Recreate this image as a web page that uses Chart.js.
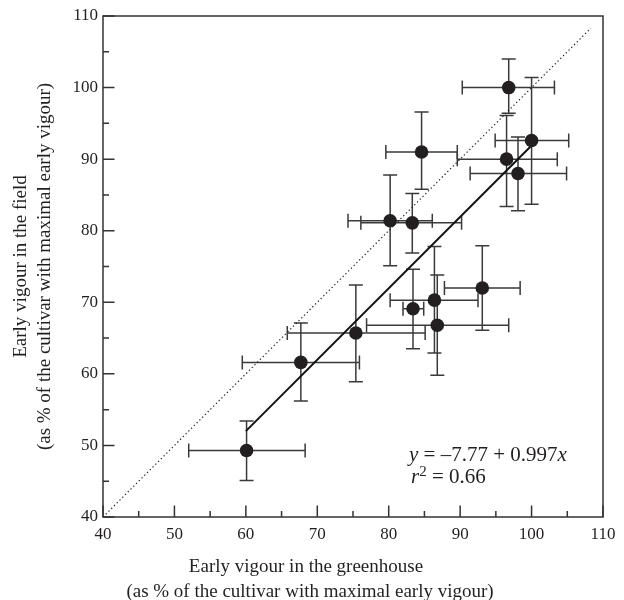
<!DOCTYPE html>
<html>
<head>
<meta charset="utf-8">
<script src="https://cdn.jsdelivr.net/npm/chart.js@4.4.0/dist/chart.umd.min.js"></script>
<style>
html, body { margin: 0; padding: 0; background: #fff; }
#wrap { width: 624px; height: 600px; }
</style>
</head>
<body>
<div id="wrap"><canvas id="chartVigour"></canvas></div>
<script>
// early vigour, % of best cultivar (greenhouse = x, field = y)
const greenhouse     = [60.1, 67.7, 75.4, 80.2, 83.3, 84.6, 83.4, 86.4, 86.8, 93.1, 96.8, 96.5, 100.0, 98.1];
const greenhouseLow  = [52.0, 59.5, 65.8, 74.3, 76.1, 79.6, 82.0, 80.2, 76.9, 87.8, 90.3, 89.6, 94.9, 91.4];
const greenhouseHigh = [68.3, 75.9, 85.1, 86.1, 90.2, 89.6, 84.9, 92.5, 96.8, 98.4, 103.2, 103.6, 105.2, 104.9];
const field          = [49.3, 61.6, 65.7, 81.4, 81.1, 91.0, 69.1, 70.3, 66.8, 72.0, 100.0, 90.0, 92.6, 88.0];
const fieldLow       = [45.1, 56.2, 58.9, 75.1, 76.9, 85.8, 63.5, 62.9, 59.8, 66.1, 96.4, 83.4, 83.7, 82.8];
const fieldHigh      = [53.4, 67.1, 72.4, 87.8, 85.2, 96.6, 74.6, 77.8, 73.8, 77.9, 104.0, 96.1, 101.4, 93.1];

// fitted line end points and 1:1 line
const fitX = [60, 100];
const fitY = [52.0, 91.9];
const identityX = [40, 108.3];
const identityY = [40, 108.3];

const axisTicks = [40, 50, 60, 70, 80, 90, 100, 110];
const minorTicks = [45, 55, 65, 75, 85, 95, 105];

const ink = "#231f20";
const serif = '"Liberation Serif", "Times New Roman", serif';

const extras = {
    id: "extras",
    beforeDatasetsDraw(chart) {
        const { ctx, scales: { x, y } } = chart;
        const cap = 7;
        ctx.save();
        ctx.strokeStyle = "#3a3a3a";
        ctx.lineWidth = 1.5;
        greenhouse.forEach((gx, i) => {
            const px = x.getPixelForValue(gx);
            const py = y.getPixelForValue(field[i]);
            const x0 = x.getPixelForValue(greenhouseLow[i]);
            const x1 = x.getPixelForValue(greenhouseHigh[i]);
            const y0 = y.getPixelForValue(fieldLow[i]);
            const y1 = y.getPixelForValue(fieldHigh[i]);
            ctx.beginPath();
            ctx.moveTo(x0, py); ctx.lineTo(x1, py);
            ctx.moveTo(x0, py - cap); ctx.lineTo(x0, py + cap);
            ctx.moveTo(x1, py - cap); ctx.lineTo(x1, py + cap);
            ctx.moveTo(px, y0); ctx.lineTo(px, y1);
            ctx.moveTo(px - cap, y0); ctx.lineTo(px + cap, y0);
            ctx.moveTo(px - cap, y1); ctx.lineTo(px + cap, y1);
            ctx.stroke();
        });
        ctx.restore();
    },
    afterDraw(chart) {
        const { ctx, chartArea: a, scales: { x, y } } = chart;
        ctx.save();

        // frame
        ctx.strokeStyle = "#333";
        ctx.lineWidth = 1.5;
        ctx.strokeRect(a.left, a.top, a.right - a.left, a.bottom - a.top);

        // inward ticks
        ctx.beginPath();
        axisTicks.concat(minorTicks).forEach(v => {
            const len = v % 10 === 0 ? 11.5 : 6;
            const px = x.getPixelForValue(v);
            const py = y.getPixelForValue(v);
            ctx.moveTo(px, a.bottom); ctx.lineTo(px, a.bottom - len);
            ctx.moveTo(a.left, py); ctx.lineTo(a.left + len, py);
        });
        ctx.stroke();

        // equation
        ctx.fillStyle = ink;
        ctx.textBaseline = "alphabetic";
        ctx.textAlign = "left";
        const it = "italic 21px " + serif;
        const rg = "21px " + serif;
        const runs = (list, tx, ty) => {
            list.forEach(r => {
                ctx.font = r[1];
                ctx.fillText(r[0], tx, ty + (r[2] || 0));
                tx += ctx.measureText(r[0]).width;
            });
        };
        runs([["y", it], [" = \u20137.77 + 0.997", rg], ["x", it]], 409, 461);
        runs([["r", it], ["2", "15px " + serif, -7], [" = 0.66", rg]], 411, 483);

        // x axis title
        ctx.textAlign = "center";
        ctx.font = "19px " + serif;
        ctx.fillText("Early vigour in the greenhouse", 306, 572);
        ctx.fillText("(as % of the cultivar with maximal early vigour)", 310, 597);
        ctx.restore();
    }
};

document.addEventListener("DOMContentLoaded", () => {
    const ctx = document.getElementById("chartVigour");

    const points = greenhouse.map((g, i) => ({ x: g, y: field[i] }));
    const fitLine = fitX.map((v, i) => ({ x: v, y: fitY[i] }));
    const oneToOne = identityX.map((v, i) => ({ x: v, y: identityY[i] }));

    new Chart(ctx, {
        type: "scatter",
        data: {
            datasets: [
                {
                    label: "Cultivars",
                    data: points,
                    pointRadius: 6.8,
                    pointBackgroundColor: ink,
                    pointBorderColor: ink,
                    pointBorderWidth: 0
                },
                {
                    type: "line",
                    label: "Fit",
                    data: fitLine,
                    borderColor: "#111",
                    borderWidth: 2,
                    pointRadius: 0
                },
                {
                    type: "line",
                    label: "1:1",
                    data: oneToOne,
                    borderColor: "#222",
                    borderWidth: 1.2,
                    borderDash: [1.3, 2.6],
                    pointRadius: 0
                }
            ]
        },
        options: {
            responsive: true,
            maintainAspectRatio: false,
            animation: false,
            layout: { padding: { left: 9, right: 21, top: 16, bottom: 0 } },
            plugins: {
                legend: { display: false },
                tooltip: { enabled: false }
            },
            scales: {
                x: {
                    type: "linear",
                    min: 40,
                    max: 110,
                    afterBuildTicks: s => { s.ticks = axisTicks.map(v => ({ value: v })); },
                    afterFit: s => { s.height = 83; },
                    grid: { display: false, drawTicks: false },
                    border: { display: false },
                    ticks: {
                        autoSkip: false,
                        maxRotation: 0,
                        padding: 7,
                        color: ink,
                        font: { family: serif, size: 17 }
                    }
                },
                y: {
                    type: "linear",
                    min: 40,
                    max: 110,
                    afterBuildTicks: s => { s.ticks = axisTicks.map(v => ({ value: v })); },
                    afterFit: s => { s.width = 94; },
                    grid: { display: false, drawTicks: false },
                    border: { display: false },
                    ticks: {
                        autoSkip: false,
                        padding: 5,
                        color: ink,
                        font: { family: serif, size: 17 }
                    },
                    title: {
                        display: true,
                        text: ["Early vigour in the field", "(as % of the cultivar with maximal early vigour)"],
                        color: ink,
                        padding: { top: 0, bottom: 0 },
                        font: { family: serif, size: 19, lineHeight: 1.263 }
                    }
                }
            }
        },
        plugins: [extras]
    });
});
</script>
</body>
</html>
